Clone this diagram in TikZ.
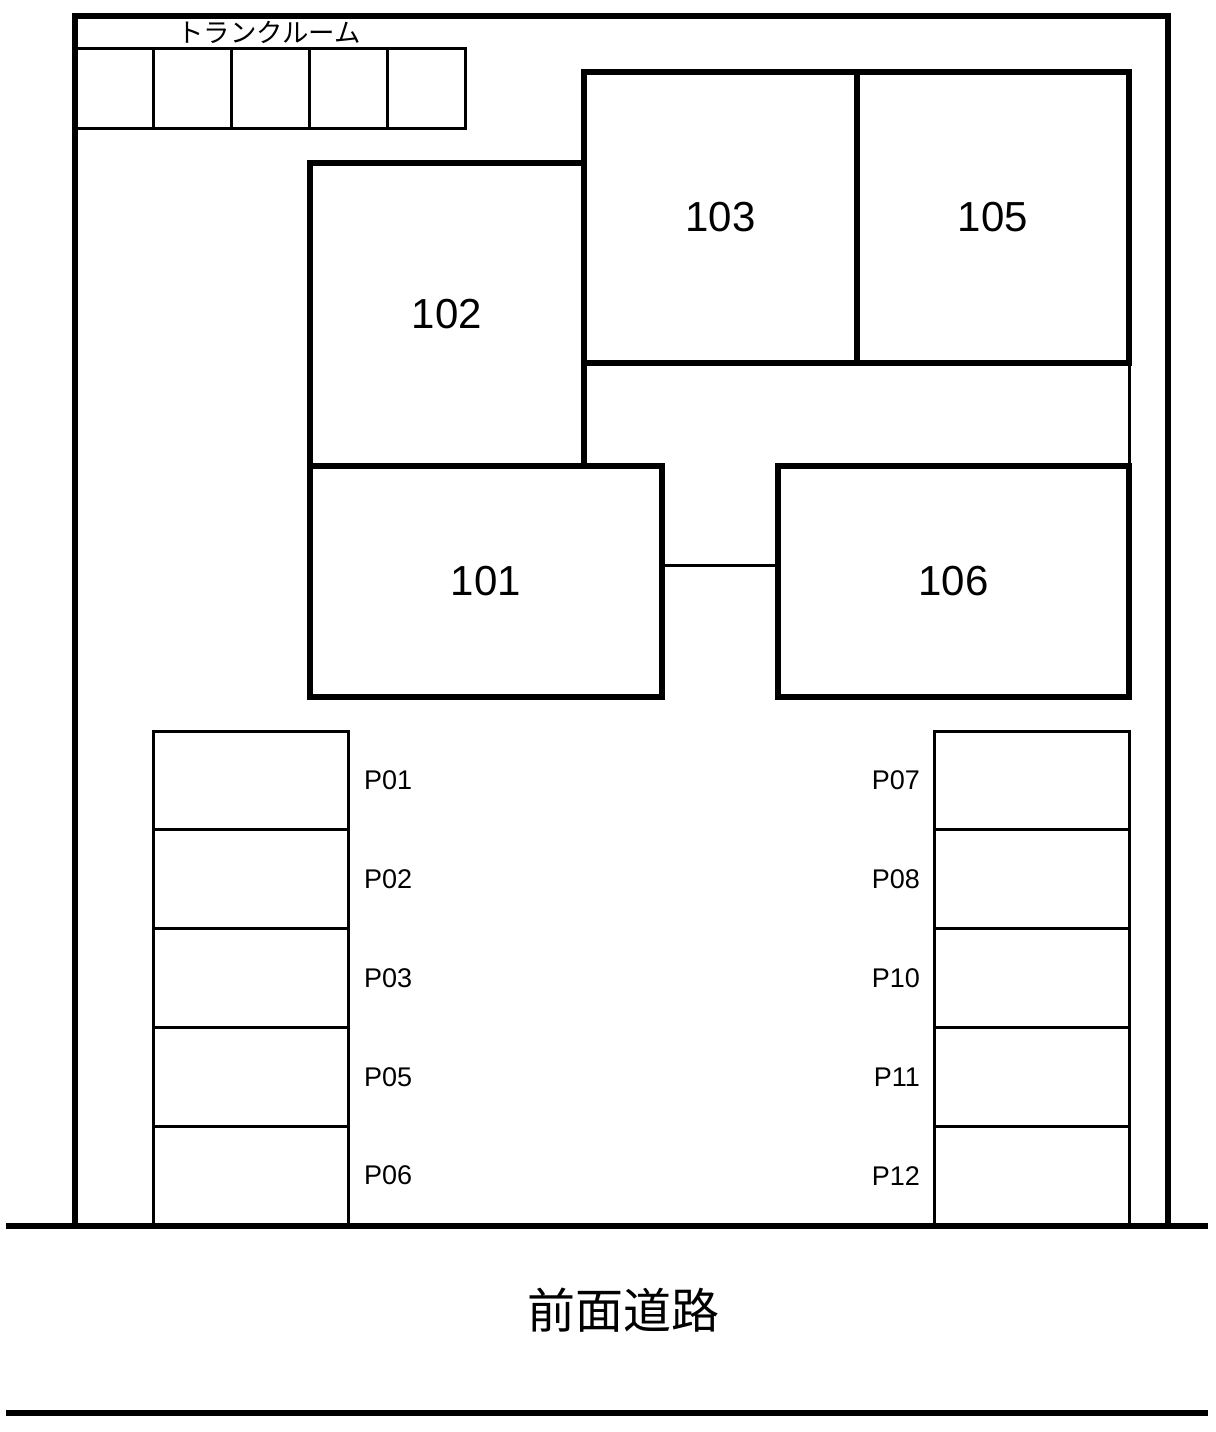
\documentclass[tikz,border=0pt]{standalone}
\usepackage{fontspec}
\setmainfont{Liberation Sans}
\newfontfamily\jpfont{Noto Sans CJK JP}
\usetikzlibrary{positioning}

\begin{document}
\begin{tikzpicture}[x=.5pt, y=-.5pt, every node/.style={inner sep=0pt, outer sep=0pt},%
        wall/.style={line width=3pt}, thinwall/.style={line width=1.5pt},%
        room/.style={draw, line width=3pt, font=\fontsize{21}{24}\selectfont},%
        bay/.style={draw, line width=1.5pt, minimum width=97.5pt, minimum height=49.4pt},%
        locker/.style={draw, line width=1.5pt, minimum width=39pt, minimum height=40pt},%
        baylabel/.style={font=\fontsize{13.5}{15}\selectfont}]
        \useasboundingbox (0,0) rectangle (1216,1432);
        % trunk room
        \node[locker] (t1) at (114.5,88) {};
        \node[locker, right=0pt of t1] (t2) {};
        \node[locker, right=0pt of t2] (t3) {};
        \node[locker, right=0pt of t3] (t4) {};
        \node[locker, right=0pt of t4] (t5) {};
        \node[font=\jpfont\fontsize{13.2}{15}\selectfont] (trunk) at (269,32) {トランクルーム};
        % rooms
        \node[room, minimum width=136.5pt, minimum height=145.5pt] (r103) at (720.5,217.5) {103};
        \node[room, minimum width=136pt, minimum height=145.5pt] (r105) at (993,217.5) {105};
        \node[room, minimum width=137pt, minimum height=151.5pt] (r102) at (447,314.5) {102};
        \node[room, minimum width=176pt, minimum height=115.5pt] (r101) at (486,581.5) {101};
        \node[room, minimum width=175.5pt, minimum height=115.5pt] (r106) at (953.5,581.5) {106};
        \draw[thinwall] ([yshift=8.25pt]r101.east) -- ([yshift=8.25pt]r106.west);
        \draw[thinwall] (r105.south east) -- (r106.north east);
        % parking, left side
        \node[bay] (p01) at (250.5,780.4) {};
        \node[bay, below=0pt of p01] (p02) {};
        \node[bay, below=0pt of p02] (p03) {};
        \node[bay, below=0pt of p03] (p05) {};
        \node[bay, below=0pt of p05] (p06) {};
        \node[baylabel, right=8pt of p01] (lp01) {P01};
        \node[baylabel, right=8pt of p02] (lp02) {P02};
        \node[baylabel, right=8pt of p03] (lp03) {P03};
        \node[baylabel, right=8pt of p05] (lp05) {P05};
        \node[baylabel, right=8pt of p06] (lp06) {P06};
        % parking, right side
        \node[bay] (p07) at (1031.5,780.4) {};
        \node[bay, below=0pt of p07] (p08) {};
        \node[bay, below=0pt of p08] (p10) {};
        \node[bay, below=0pt of p10] (p11) {};
        \node[bay, below=0pt of p11] (p12) {};
        \node[baylabel, left=7pt of p07] (lp07) {P07};
        \node[baylabel, left=7pt of p08] (lp08) {P08};
        \node[baylabel, left=7pt of p10] (lp10) {P10};
        \node[baylabel, left=7pt of p11] (lp11) {P11};
        \node[baylabel, left=7pt of p12] (lp12) {P12};
        % site and road
        \draw[wall] (75,1226) -- (75,16) -- (1168,16) -- (1168,1226);
        \draw[wall] (6,1226) -- (1208,1226);
        \draw[wall] (6,1413) -- (1208,1413);
        \node[font=\jpfont\fontsize{24}{28}\selectfont] (road) at (623,1310) {前面道路};
\end{tikzpicture}
\end{document}
